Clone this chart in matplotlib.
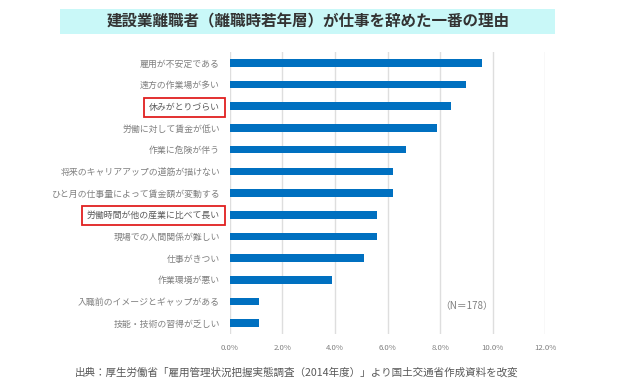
import matplotlib
matplotlib.use("Agg")
import matplotlib.pyplot as plt
from matplotlib.patches import Rectangle
from matplotlib.ticker import FuncFormatter

plt.rcParams['font.family'] = ['Noto Sans CJK JP', 'DejaVu Sans']

# data (percent of N=178)
reasons = [
    "雇用が不安定である",
    "遠方の作業場が多い",
    "休みがとりづらい",
    "労働に対して賃金が低い",
    "作業に危険が伴う",
    "将来のキャリアアップの道筋が描けない",
    "ひと月の仕事量によって賃金額が変動する",
    "労働時間が他の産業に比べて長い",
    "現場での人間関係が難しい",
    "仕事がきつい",
    "作業環境が悪い",
    "入職前のイメージとギャップがある",
    "技能・技術の習得が乏しい",
]
share = [9.6, 9.0, 8.4, 7.9, 6.7, 6.2, 6.2, 5.6, 5.6, 5.1, 3.9, 1.1, 1.1]
boxed = ["休みがとりづらい", "労働時間が他の産業に比べて長い"]
x_ticks = [0, 2, 4, 6, 8, 10, 12]

title_text = "建設業離職者（離職時若年層）が仕事を辞めた一番の理由"
source_text = "出典：厚生労働省「雇用管理状況把握実態調査（2014年度）」より国土交通省作成資料を改変"
n_text = "（N＝178）"

fig = plt.figure(figsize=(6.4, 3.88), dpi=100)
ax = fig.add_axes([0.359, 0.139, 0.493, 0.727])

pos = list(range(len(reasons)))
ax.barh(pos, share, height=0.35, color="#0070C0")
ax.set_ylim(len(reasons) - 0.5, -0.5)
ax.set_xlim(0, 12)
ax.set_xticks(x_ticks)
ax.xaxis.set_major_formatter(FuncFormatter(lambda v, p: f"{v:.1f}%"))
ax.set_yticks(pos)
ax.set_yticklabels(reasons)
ax.grid(axis="x", color="#dedede", linewidth=1)
ax.set_axisbelow(True)
for s in ax.spines.values():
    s.set_visible(False)
ax.tick_params(axis="y", length=0, pad=7, labelsize=6.4, labelcolor="#7f7f7f")
ax.tick_params(axis="x", length=0, pad=7, labelsize=5.6, labelcolor="#7f7f7f")

for lab in ax.get_yticklabels():
    if lab.get_text() in boxed:
        lab.set_bbox(dict(facecolor="none", edgecolor="#e02020", linewidth=1.3, pad=3.5))
        lab.set_color("#595959")

ax.text(8.0, 11.2, n_text, fontsize=7, color="#7f7f7f", va="center", ha="left")

# title band
fig.patches.append(Rectangle((0.094, 0.912), 0.773, 0.065, transform=fig.transFigure,
                             facecolor="#c9f8f8", edgecolor="none", zorder=0))
fig.text(0.481, 0.944, title_text, fontsize=11.2, fontweight="bold", color="#333333",
         ha="center", va="center")

fig.text(0.463, 0.041, source_text, fontsize=7.6, color="#595959", ha="center", va="center")

fig.savefig("out.png", dpi=100)
